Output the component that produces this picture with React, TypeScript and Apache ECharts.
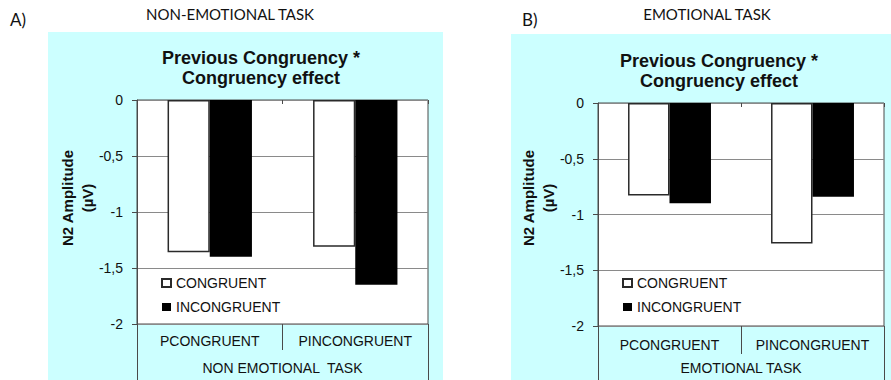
import React, { useEffect, useRef } from "react";
import * as echarts from "echarts";

// N2 amplitude (µV) per previous-trial congruency, split by current-trial congruency
const categories = ["PCONGRUENT", "PINCONGRUENT"];
const nonEmotionalCongruent = [-1.36, -1.31];
const nonEmotionalIncongruent = [-1.4, -1.65];
const emotionalCongruent = [-0.83, -1.26];
const emotionalIncongruent = [-0.9, -0.84];
const groupNames = ["NON EMOTIONAL  TASK", "EMOTIONAL TASK"];
const panelHeadings = ["NON-EMOTIONAL TASK", "EMOTIONAL TASK"];
const panelLetters = ["A)", "B)"];
const seriesNames = ["CONGRUENT", "INCONGRUENT"];
const chartTitle = "Previous Congruency *\nCongruency effect";
const yTitle = "N2 Amplitude\n(µV)";

const ARIAL = "Liberation Sans";
const CALIBRI = "Lato";
const AXIS = "#4a4a4a";
const GRID = "#8a8a8a";
const CYAN = "#ccffff";

export default function App() {
  const ref = useRef<HTMLDivElement>(null);

  useEffect(() => {
    document.body.style.margin = "0";
    if (!ref.current) return;
    const chart = echarts.init(ref.current, undefined, { renderer: "svg" });

    const panels = [
      { left: 137, right: 463, top: 100, bottom: 56 },
      { left: 598, right: 7, top: 103, bottom: 54 },
    ];

    const grids = panels.map((p) => ({
      left: p.left,
      right: p.right,
      top: p.top,
      bottom: p.bottom,
      show: true,
      backgroundColor: "#ffffff",
      borderColor: AXIS,
      borderWidth: 1,
    }));

    // axis line kept invisible; the grid border draws the frame
    const hiddenLine = { show: true, onZero: false, lineStyle: { color: AXIS, opacity: 0 } };

    const xAxes: any[] = [];
    const yAxes: any[] = [];
    panels.forEach((_, i) => {
      // category labels with short dividers
      xAxes.push({
        type: "category",
        gridIndex: i,
        data: categories,
        position: "bottom",
        axisLine: hiddenLine,
        axisTick: { show: true, interval: 0, length: i === 0 ? 26 : 28, lineStyle: { color: AXIS } },
        axisLabel: {
          interval: 0,
          hideOverlap: false,
          fontFamily: ARIAL,
          fontSize: 14,
          color: "#111",
          margin: i === 0 ? 10 : 12,
        },
        splitLine: { show: false },
      });
      // task group label with long outer dividers
      xAxes.push({
        type: "category",
        gridIndex: i,
        data: [groupNames[i]],
        position: "bottom",
        axisLine: hiddenLine,
        axisTick: { show: true, interval: 0, length: 60, lineStyle: { color: AXIS } },
        axisLabel: {
          interval: 0,
          fontFamily: ARIAL,
          fontSize: 14,
          color: "#111",
          margin: i === 0 ? 37 : 35,
        },
        splitLine: { show: false },
      });
      // small tick marks along the zero line
      xAxes.push({
        type: "category",
        gridIndex: i,
        data: categories,
        position: "top",
        axisLine: hiddenLine,
        axisTick: { show: true, interval: 0, inside: true, length: 4, lineStyle: { color: AXIS } },
        axisLabel: { show: false, interval: 0 },
        splitLine: { show: false },
      });
      yAxes.push({
        type: "value",
        gridIndex: i,
        min: -2,
        max: 0,
        interval: 0.5,
        axisLine: { show: true, lineStyle: { color: AXIS } },
        axisTick: { show: true, length: 5, lineStyle: { color: AXIS } },
        axisLabel: {
          fontFamily: ARIAL,
          fontSize: 14,
          color: "#111",
          margin: 14,
          formatter: (v: number) => String(v).replace(".", ","),
        },
        splitLine: { show: true, lineStyle: { color: GRID, width: 1 } },
      });
    });

    const dataSets = [
      [nonEmotionalCongruent, nonEmotionalIncongruent],
      [emotionalCongruent, emotionalIncongruent],
    ];

    const series: any[] = [];
    dataSets.forEach((pair, i) => {
      pair.forEach((values, k) => {
        series.push({
          type: "bar",
          name: seriesNames[k],
          xAxisIndex: i * 3,
          yAxisIndex: i,
          data: values,
          barGap: "0%",
          barCategoryGap: "42%",
          itemStyle:
            k === 0
              ? { color: "#ffffff", borderColor: "#2a2a2a", borderWidth: 1.5 }
              : { color: "#000000", borderColor: "#000000", borderWidth: 0 },
        });
      });
    });

    const legends = [
      { left: 156, top: 271 },
      { left: 617, top: 271 },
    ].map((pos) => ({
      ...pos,
      orient: "vertical",
      data: seriesNames,
      icon: "rect",
      itemWidth: 9,
      itemHeight: 8,
      itemGap: 10,
      selectedMode: false,
      textStyle: { fontFamily: ARIAL, fontSize: 14, color: "#111", lineHeight: 14 },
    }));

    const titles = [
      { cx: 256, top: 43 },
      { cx: 714, top: 46 },
    ].map((t) => ({
      text: chartTitle,
      left: t.cx,
      top: t.top,
      textAlign: "center",
      textStyle: {
        fontFamily: ARIAL,
        fontSize: 18,
        fontWeight: "bold",
        color: "#111",
        lineHeight: 20,
      },
    }));

    const yTitleText = (x: number) => ({
      type: "text",
      x,
      y: 198,
      rotation: Math.PI / 2,
      style: {
        text: yTitle,
        font: `bold 15px ${ARIAL}`,
        lineHeight: 20,
        fill: "#111",
        align: "center",
        verticalAlign: "middle",
      },
    });

    const graphics: any[] = [
      { type: "rect", z: -10, shape: { x: 48, y: 32, width: 395, height: 348 }, style: { fill: CYAN } },
      { type: "rect", z: -10, shape: { x: 511, y: 34, width: 380, height: 346 }, style: { fill: CYAN } },
      {
        type: "text",
        x: 10,
        y: 19,
        style: { text: panelLetters[0], font: `17px ${CALIBRI}`, fill: "#111", verticalAlign: "middle" },
      },
      {
        type: "text",
        x: 230,
        y: 14,
        style: { text: panelHeadings[0], font: `15px ${CALIBRI}`, fill: "#111", align: "center", verticalAlign: "middle" },
      },
      {
        type: "text",
        x: 522,
        y: 19,
        style: { text: panelLetters[1], font: `17px ${CALIBRI}`, fill: "#111", verticalAlign: "middle" },
      },
      {
        type: "text",
        x: 707,
        y: 14,
        style: { text: panelHeadings[1], font: `15px ${CALIBRI}`, fill: "#111", align: "center", verticalAlign: "middle" },
      },
      yTitleText(77),
      yTitleText(538),
    ];

    chart.setOption({
      animation: false,
      backgroundColor: "#ffffff",
      title: titles,
      grid: grids,
      xAxis: xAxes,
      yAxis: yAxes,
      legend: legends,
      series,
      graphic: graphics,
    });

    return () => chart.dispose();
  }, []);

  return <div ref={ref} style={{ width: 891, height: 380 }} />;
}
